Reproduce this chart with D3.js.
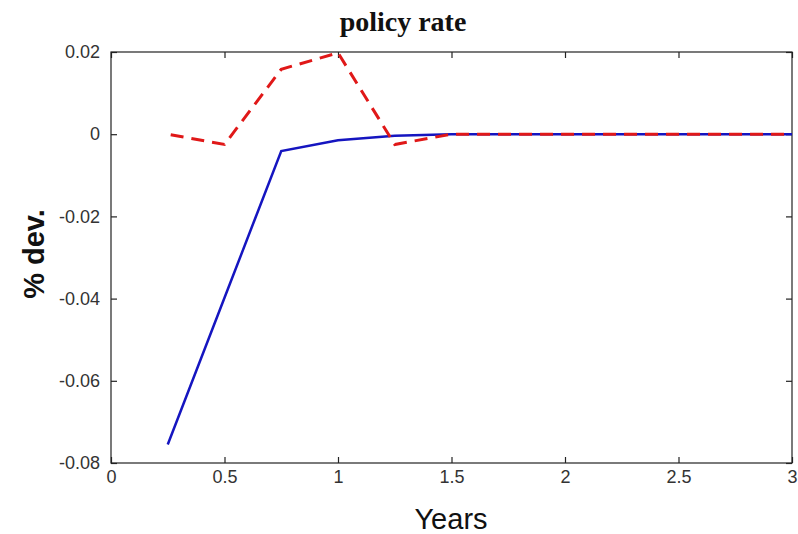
<!DOCTYPE html>
<html>
<head>
<meta charset="utf-8">
<script src="https://d3js.org/d3.v7.min.js"></script>
<style>
  body { margin: 0; background: #fff; }
  svg { display: block; }
</style>
</head>
<body>
<svg width="798" height="534"></svg>
<script>
// quarters after the shock
var years = [0.25, 0.5, 0.75, 1, 1.25, 1.5, 1.75, 2, 2.25, 2.5, 2.75, 3];
var blueSeries = [-0.0755, -0.0398, -0.0041, -0.0015, -0.0004, 0, 0, 0, 0, 0, 0, 0];
var redSeries = [0.0000, -0.0025, 0.0158, 0.0198, -0.0025, 0, 0, 0, 0, 0, 0, 0];
var xTicks = [0, 0.5, 1, 1.5, 2, 2.5, 3];
var yTicks = [0.02, 0, -0.02, -0.04, -0.06, -0.08];

var plotL = 111, plotR = 792, plotT = 52, plotB = 463;

var svg = d3.select("svg");

var x = d3.scaleLinear().domain([0, 3]).range([plotL, plotR]);
var y = d3.scaleLinear().domain([-0.08, 0.02]).range([plotB, plotT]);

// box
svg.append("rect")
  .attr("x", plotL).attr("y", plotT)
  .attr("width", plotR - plotL).attr("height", plotB - plotT)
  .attr("fill", "none").attr("stroke", "#222").attr("stroke-width", 1.2);

function tickFmt(d) { return d === 0 ? "0" : String(d); }

svg.append("g")
  .attr("transform", "translate(0," + plotB + ")")
  .call(d3.axisBottom(x).tickValues(xTicks).tickSize(-6).tickPadding(7).tickFormat(tickFmt));
svg.append("g")
  .attr("transform", "translate(0," + plotT + ")")
  .call(d3.axisTop(x).tickValues(xTicks).tickSize(-6).tickFormat(""));
svg.append("g")
  .attr("transform", "translate(" + plotL + ",0)")
  .call(d3.axisLeft(y).tickValues(yTicks).tickSize(-6).tickPadding(11).tickFormat(tickFmt));
svg.append("g")
  .attr("transform", "translate(" + plotR + ",0)")
  .call(d3.axisRight(y).tickValues(yTicks).tickSize(-6).tickFormat(""));

svg.selectAll(".domain").remove();
svg.selectAll(".tick line").attr("stroke", "#222").attr("stroke-width", 1.2);
svg.selectAll(".tick text")
  .attr("font-family", "Arial, 'Liberation Sans', sans-serif")
  .attr("font-size", "18px")
  .attr("fill", "#333");

var line = d3.line()
  .x(function(d) { return x(d[0]); })
  .y(function(d) { return y(d[1]); });

svg.append("path")
  .datum(d3.zip(years, blueSeries))
  .attr("d", line)
  .attr("fill", "none")
  .attr("stroke", "#1515c0")
  .attr("stroke-width", 2.5);

svg.append("path")
  .datum(d3.zip(years, redSeries))
  .attr("d", line)
  .attr("fill", "none")
  .attr("stroke", "#e01818")
  .attr("stroke-width", 3)
  .attr("stroke-dasharray", "13,8")
  .attr("stroke-dashoffset", "-3");

// texts
svg.append("text")
  .attr("x", 403).attr("y", 31)
  .attr("text-anchor", "middle")
  .attr("font-family", "'Liberation Serif', 'Times New Roman', serif")
  .attr("font-weight", "bold")
  .attr("font-size", "28px")
  .attr("fill", "#111")
  .text("policy rate");

svg.append("text")
  .attr("x", 451).attr("y", 529)
  .attr("text-anchor", "middle")
  .attr("font-family", "Arial, 'Liberation Sans', sans-serif")
  .attr("font-size", "29px")
  .attr("fill", "#111")
  .text("Years");

svg.append("text")
  .attr("transform", "translate(44,254) rotate(-90)")
  .attr("text-anchor", "middle")
  .attr("font-family", "Arial, 'Liberation Sans', sans-serif")
  .attr("font-weight", "bold")
  .attr("font-size", "29px")
  .attr("fill", "#111")
  .text("% dev.");
</script>
</body>
</html>
